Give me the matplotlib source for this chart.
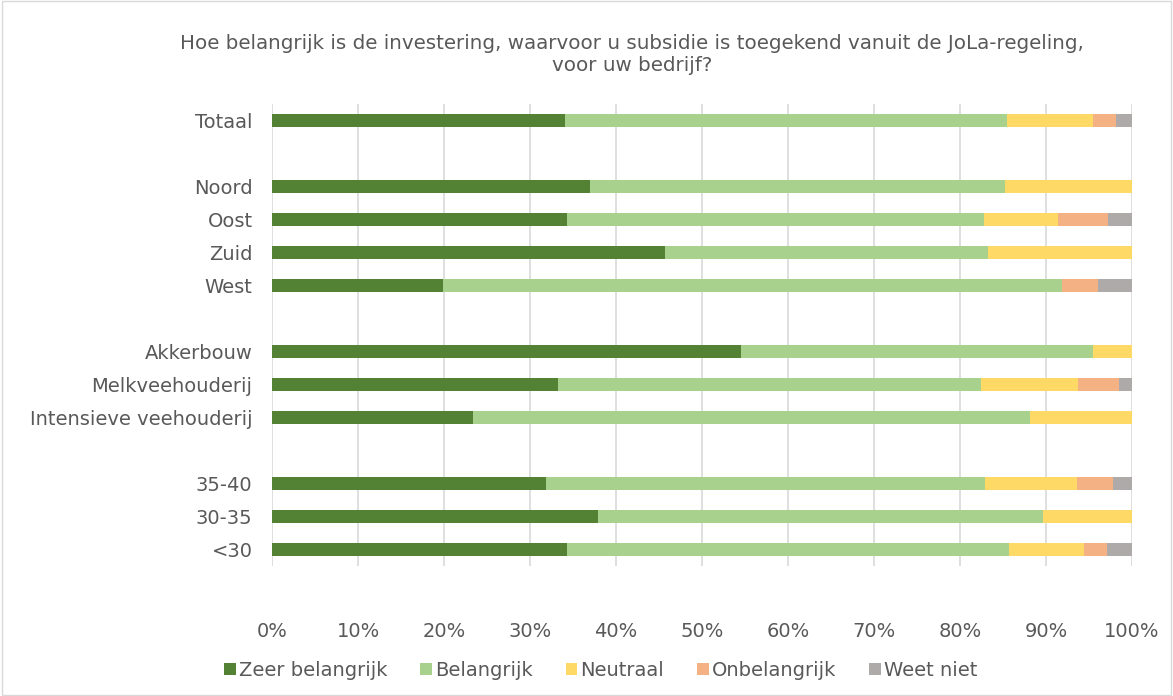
import numpy as np
import matplotlib
matplotlib.use("Agg")
import matplotlib.pyplot as plt
from matplotlib.patches import Rectangle

# categories top to bottom, None = empty gap row
categories = ["Totaal", None, "Noord", "Oost", "Zuid", "West", None,
              "Akkerbouw", "Melkveehouderij", "Intensieve veehouderij", None,
              "35-40", "30-35", "<30"]
series = ["Zeer belangrijk", "Belangrijk", "Neutraal", "Onbelangrijk", "Weet niet"]
zeer = [34.1, 37.0, 34.3, 45.7, 19.9, 54.5, 33.3, 23.4, 31.8, 37.9, 34.3]
belangrijk = [51.4, 48.2, 48.5, 37.6, 72.0, 41.0, 49.1, 64.7, 51.1, 51.7, 51.4]
neutraal = [10.0, 14.8, 8.6, 16.7, 0.0, 4.5, 11.3, 11.9, 10.7, 10.4, 8.7]
onbelangrijk = [2.6, 0.0, 5.8, 0.0, 4.1, 0.0, 4.8, 0.0, 4.2, 0.0, 2.7]
weet_niet = [1.9, 0.0, 2.8, 0.0, 4.0, 0.0, 1.5, 0.0, 2.2, 0.0, 2.9]
colors = ["#548235", "#A9D18E", "#FFD966", "#F4B183", "#AEAAAA"]
title = ("Hoe belangrijk is de investering, waarvoor u subsidie is toegekend vanuit de JoLa-regeling,\n"
         "voor uw bedrijf?")

txt = "#595959"
plt.rcParams['font.family'] = 'DejaVu Sans'

fig = plt.figure(figsize=(11.73, 6.96), dpi=100)
ax = fig.add_axes([0.2319, 0.1868, 0.7332, 0.6638])

ypos = [i for i, c in enumerate(categories) if c is not None]
left = np.zeros(len(ypos))
for vals, name, col in zip([zeer, belangrijk, neutraal, onbelangrijk, weet_niet], series, colors):
    vals = np.array(vals)
    ax.barh(ypos, vals, left=left, height=0.4, color=col, label=name, zorder=3)
    left += vals

ax.set_ylim(len(categories) - 0.5, -0.5)
ax.set_yticks(range(len(categories)))
ax.set_yticklabels([c if c else "" for c in categories], fontsize=14, color=txt)
ax.set_xlim(0, 100)
ax.set_xticks(np.arange(0, 101, 10))
ax.set_xticklabels(["%d%%" % v for v in range(0, 101, 10)], fontsize=14, color=txt)
ax.tick_params(axis='both', length=0)
ax.tick_params(axis='x', pad=40)
ax.tick_params(axis='y', pad=14)
ax.grid(axis='x', color="#d9d9d9", linewidth=1.2, zorder=0)
for s in ax.spines.values():
    s.set_visible(False)

fig.text(0.539, 0.922, title, ha='center', va='center', fontsize=14.3, color=txt, linespacing=1.2)

fig.legend(loc='center', bbox_to_anchor=(0.512, 0.037), ncol=5, frameon=False,
           fontsize=14, handlelength=0.6, handleheight=0.6, handletextpad=0.15,
           columnspacing=1.7, labelcolor=txt)

fig.patches.append(Rectangle((0.002, 0.002), 0.996, 0.996, transform=fig.transFigure,
                             fill=False, edgecolor="#d9d9d9", linewidth=1))

fig.savefig("out.png", dpi=100)
